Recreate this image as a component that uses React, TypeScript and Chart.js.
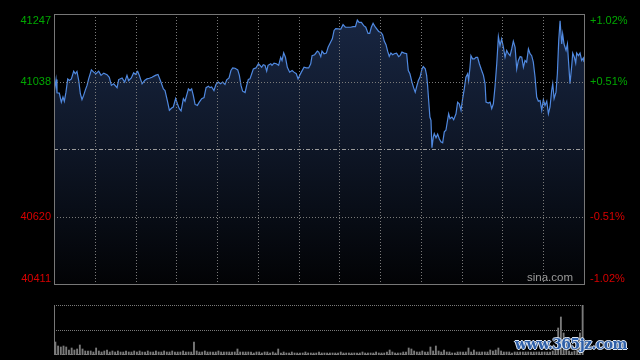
import { useEffect, useRef } from "react";
import { Chart, registerables } from "chart.js";

Chart.register(...registerables);

// ---- data ----
const PREV_CLOSE = 40829;
const PRICE_TICKS = [40411, 40620, 41038, 41247];
const PCT_LABELS = ["-1.02%", "-0.51%", "+0.51%", "+1.02%"];
const GRID_MINUTES = [30, 60, 90, 120, 150, 180, 210, 240, 270, 300, 330, 360];

// minutes since open
const MINUTES = [
  0, 1.5, 2.2, 3.9, 5.4, 6.6, 7.6, 8.8, 10.1, 11.3, 12.8, 14.5, 15.7, 16.9, 18.2, 19.4, 20.6, 21.8, 23.1, 24.3,
  25.5, 27.5, 29.2, 30.9, 32.9, 34.6, 36.6, 39.0, 40.7, 42.2, 43.9, 46.4, 47.6, 50.1, 52.0, 53.7, 54.9, 56.9, 58.6, 59.9,
  61.6, 62.8, 64.8, 66.7, 68.4, 70.2, 72.1, 74.6, 76.5,
  78.0, 80.5, 81.7, 83.4, 84.9, 86.6, 87.8, 89.5, 90.8, 92.2, 93.5, 95.2, 96.4, 97.6, 98.9, 100.1, 101.3, 102.5, 103.8,
  105.5, 106.9, 108.7, 110.4, 111.9, 113.6, 114.8, 116.0, 117.7, 119.2, 120.9, 122.6, 124.1, 125.8, 127.1, 128.8, 130.2,
  131.5, 133.2, 135.2, 136.4, 137.6, 138.8, 140.6, 141.8, 143.0, 144.2, 145.5, 146.7, 148.6, 150.4, 151.6, 152.8, 154.0,
  155.3, 156.5,
  157.5, 159.5, 160.4, 161.9, 163.6, 165.3, 166.8, 167.8, 169.0, 170.3, 171.7, 173.4, 175.2, 176.6, 178.3, 179.6, 180.8,
  182.0, 184.0, 185.7, 187.4, 188.9, 189.9, 191.8, 193.8, 194.8, 196.3, 197.2, 198.7, 200.4, 201.7, 203.6, 204.8, 206.1,
  207.3, 209.0, 211.0, 212.7, 214.4, 216.4, 218.3, 220.1, 221.8, 223.2, 224.5, 226.2, 227.9, 229.4, 231.1, 232.3, 233.5,
  234.8, 236.5,
  238.9, 240.6, 241.8, 243.0, 244.3, 245.5, 246.7, 247.9, 249.2, 250.4, 252.1, 253.6, 254.6, 256.0, 257.8, 259.5, 260.7,
  261.9, 263.4, 264.6, 265.8, 266.8, 268.1, 269.3, 270.8, 271.7, 273.2, 274.2, 274.9, 275.7, 276.6, 277.4, 278.1, 279.1,
  279.8, 281.1, 282.3, 283.5, 284.7, 286.0, 287.2, 288.4, 289.6, 290.4, 291.4, 292.8, 294.1, 295.8, 297.0, 298.2, 299.5,
  300.7, 301.9, 303.1, 304.4, 305.1, 306.1, 306.8, 308.0, 309.3, 310.5, 311.7, 313.0,
  314.7, 316.0, 317.2, 317.9, 319.6, 320.9, 322.1, 323.3, 324.5, 325.8, 327.0, 328.2, 329.4, 330.7, 331.9, 333.1, 334.4,
  335.6, 336.8, 338.0, 339.3, 340.5, 341.7, 343.0, 344.2, 345.4, 346.6, 347.8, 349.1, 350.3, 351.5, 352.7, 354.0, 355.2,
  356.4, 357.7, 358.9, 360.1, 361.3, 362.6, 363.8, 365.0, 366.2, 367.0, 368.0, 369.4, 370.4, 371.4, 372.4, 373.6, 374.3,
  375.3, 376.8, 377.8, 378.5, 379.7, 381.0, 381.7, 382.9, 383.9, 384.6, 385.9, 387.1, 388.3, 389.5, 390,
];

const PRICES = [
  41000, 41044, 41003, 41002, 40974, 40990, 40977, 41005, 41046, 41041, 41046, 41070, 41062, 41069, 41041, 41000, 40982, 40995, 41012, 41026,
  41046, 41074, 41067, 41062, 41070, 41057, 41064, 41059, 41051, 41026, 41031, 41019, 41044, 41049, 41036, 41057, 41041, 41049, 41065, 41060,
  41069, 41057, 41031, 41041, 41046, 41048, 41051, 41057, 41060,
  41044, 41015, 41010, 40979, 40949, 40956, 40959, 40985, 40969, 40954, 40947, 40985, 40977, 40995, 41015, 41010, 41015, 40995, 40967,
  40964, 40974, 40985, 40988, 41019, 41023, 41019, 41021, 41010, 41029, 41036, 41031, 41036, 41029, 41043, 41049, 41072,
  41080, 41079, 41074, 41057, 41026, 41008, 41004, 41026, 41044, 41046, 41062, 41077, 41080, 41093, 41088, 41082, 41090,
  41088, 41070,
  41088, 41093, 41088, 41095, 41093, 41088, 41113, 41103, 41127, 41113, 41082, 41067, 41072, 41067, 41062, 41046, 41057,
  41067, 41082, 41080, 41080, 41093, 41118, 41121, 41132, 41129, 41115, 41132, 41124, 41126, 41144, 41160, 41170, 41196,
  41202, 41201, 41200, 41214, 41206, 41206, 41206, 41208, 41208, 41228, 41221, 41221, 41211, 41206, 41187, 41187, 41206,
  41218, 41206,
  41193, 41190, 41183, 41163, 41152, 41132, 41116, 41126, 41121, 41124, 41126, 41115, 41118, 41129, 41126, 41124, 41072,
  41062, 41036, 41019, 41005, 41021, 41041, 41051, 41077, 41084, 41077, 41057, 41026, 40979, 40928, 40918, 40833, 40866,
  40877, 40864, 40875, 40861, 40851, 40848, 40882, 40887, 40918, 40938, 40923, 40928, 40920, 40938, 40974, 40969, 40949,
  40985, 41015, 41051, 41062, 41041, 41082, 41118, 41108, 41108, 41113, 41113, 41093,
  41072, 41057, 41031, 40974, 40971, 40974, 40954, 40969, 41021, 41093, 41177, 41149, 41170, 41144, 41113, 41134, 41124,
  41118, 41139, 41163, 41144, 41077, 41103, 41115, 41113, 41082, 41103, 41098, 41139, 41124, 41118, 41098, 41051, 40990,
  40977, 40979, 40949, 40982, 40964, 40977, 40938, 40959, 41010, 41031, 40985, 41005, 41062, 41165, 41226, 41154, 41185,
  41154, 41134, 41154, 41108, 41031, 41088, 41126, 41113, 41095, 41126, 41118, 41126, 41103, 41111, 41098,
];

// volume, one bar per two minutes (relative units, 100 = panel top)
const VOLUMES = [
  26, 18, 16, 18, 16, 10, 14, 10, 12, 20,
  12, 8, 8, 8, 6, 14, 8, 6, 8, 10,
  6, 8, 6, 8, 6, 6, 8, 6, 6, 8,
  6, 8, 6, 6, 8, 6, 6, 8, 6, 6,
  8, 6, 6, 8, 6, 6, 6, 8, 6, 6,
  6, 26, 8, 6, 6, 8, 6, 6, 6, 6,
  8, 6, 6, 6, 6, 6, 6, 12, 6, 6,
  6, 6, 6, 4, 6, 6, 4, 6, 6, 4,
  6, 4, 12, 4, 6, 4, 4, 6, 4, 4,
  4, 4, 6, 4, 4, 4, 4, 6, 4, 4,
  4, 4, 4, 4, 4, 6, 4, 4, 4, 4,
  4, 4, 4, 6, 4, 4, 4, 4, 6, 4,
  4, 4, 6, 10, 6, 4, 4, 4, 6, 6,
  14, 12, 8, 6, 6, 8, 6, 6, 16, 8,
  18, 8, 6, 10, 6, 6, 4, 4, 6, 6,
  6, 6, 14, 6, 10, 6, 6, 6, 6, 6,
  10, 8, 10, 14, 8, 6, 6, 6, 4, 6,
  6, 6, 6, 6, 6, 6, 6, 6, 6, 6,
  6, 6, 6, 8, 10, 54, 76, 44, 16, 8,
  6, 8, 10, 44, 100,
];

const FONT = '11px "Liberation Sans", Arial, sans-serif';
const GREEN = "#00a800";
const RED = "#d80000";

const mainDecor = {
  id: "mainDecor",
  afterDatasetsDraw(chart: any) {
    const { ctx, chartArea: a, scales } = chart;
    const x = scales.x;
    const y = scales.y;
    ctx.save();
    ctx.lineWidth = 1;
    // dotted grid
    ctx.strokeStyle = "#7a7a7a";
    ctx.setLineDash([1, 2]);
    for (const m of GRID_MINUTES) {
      const px = Math.round(x.getPixelForValue(m)) + 0.5;
      ctx.beginPath();
      ctx.moveTo(px, a.top);
      ctx.lineTo(px, a.bottom);
      ctx.stroke();
    }
    for (const v of [PRICE_TICKS[1], PRICE_TICKS[2]]) {
      const py = Math.round(y.getPixelForValue(v)) + 0.5;
      ctx.beginPath();
      ctx.moveTo(a.left, py);
      ctx.lineTo(a.right, py);
      ctx.stroke();
    }
    // previous close line
    ctx.strokeStyle = "#9a9a9a";
    ctx.setLineDash([4, 2, 1, 2]);
    const pc = Math.round(y.getPixelForValue(PREV_CLOSE)) + 0.5;
    ctx.beginPath();
    ctx.moveTo(a.left, pc);
    ctx.lineTo(a.right, pc);
    ctx.stroke();
    // border
    ctx.setLineDash([]);
    ctx.strokeStyle = "#777777";
    ctx.strokeRect(a.left + 0.5, a.top + 0.5, a.right - a.left, a.bottom - a.top);

    // labels
    ctx.font = FONT;
    PRICE_TICKS.forEach((v, i) => {
      let py = y.getPixelForValue(v);
      let base: CanvasTextBaseline = "middle";
      if (i === PRICE_TICKS.length - 1) {
        base = "top";
        py = a.top + 1;
      } else if (i === 0) {
        base = "bottom";
        py = a.bottom;
      }
      ctx.textBaseline = base;
      ctx.fillStyle = v > PREV_CLOSE ? GREEN : RED;
      ctx.textAlign = "right";
      ctx.fillText(String(v), a.left - 3, py);
      ctx.textAlign = "left";
      ctx.fillText(PCT_LABELS[i], a.right + 6, py);
    });
    // watermark
    ctx.font = '11.5px "Liberation Sans", Arial, sans-serif';
    ctx.fillStyle = "#9a9a9a";
    ctx.textAlign = "right";
    ctx.textBaseline = "bottom";
    ctx.fillText("sina.com", a.right - 11, a.bottom - 0.5);
    ctx.restore();
  },
};

const volDecor = {
  id: "volDecor",
  beforeDatasetsDraw(chart: any) {
    const { ctx, chartArea: a, scales } = chart;
    const y = scales.y;
    ctx.save();
    ctx.lineWidth = 1;
    ctx.strokeStyle = "#7a7a7a";
    ctx.setLineDash([1, 1]);
    for (const v of [100, 50, 0]) {
      const py = Math.round(y.getPixelForValue(v)) + (v === 0 ? -0.5 : 0.5);
      ctx.beginPath();
      ctx.moveTo(a.left, py);
      ctx.lineTo(a.right, py);
      ctx.stroke();
    }
    ctx.setLineDash([]);
    ctx.strokeStyle = "#777777";
    ctx.beginPath();
    ctx.moveTo(a.left + 0.5, a.top);
    ctx.lineTo(a.left + 0.5, a.bottom);
    ctx.stroke();
    ctx.restore();
  },
};

export default function App() {
  const mainRef = useRef<HTMLCanvasElement>(null);
  const volRef = useRef<HTMLCanvasElement>(null);

  useEffect(() => {
    const points = MINUTES.map((m, i) => ({ x: m, y: PRICES[i] }));
    const main = new Chart(mainRef.current!, {
      type: "line",
      data: {
        datasets: [
          {
            data: points,
            borderColor: "#5089e0",
            borderWidth: 1.2,
            pointRadius: 0,
            tension: 0,
            fill: "start",
            backgroundColor: (c: any) => {
              const area = c.chart.chartArea;
              if (!area) return "rgba(20,32,56,1)";
              const g = c.chart.ctx.createLinearGradient(0, area.top, 0, area.bottom);
              g.addColorStop(0, "rgb(24,38,66)");
              g.addColorStop(0.5, "rgb(14,22,38)");
              g.addColorStop(1, "rgb(2,3,5)");
              return g;
            },
          },
        ],
      },
      options: {
        responsive: false,
        animation: false,
        events: [],
        layout: { padding: { left: 54, right: 56, top: 14, bottom: 16 } },
        plugins: { legend: { display: false }, tooltip: { enabled: false } },
        scales: {
          x: { type: "linear", min: 0, max: 390, display: false },
          y: { type: "linear", min: PRICE_TICKS[0], max: PRICE_TICKS[3], display: false },
        },
      },
      plugins: [mainDecor],
    });

    const volData = VOLUMES.map((v, i) => ({ x: i * 2 + 1, y: v }));
    const vol = new Chart(volRef.current!, {
      type: "bar",
      data: {
        datasets: [
          {
            data: volData,
            backgroundColor: "#7a7a7a",
            borderWidth: 0,
            barThickness: 1.2,
          },
        ],
      },
      options: {
        responsive: false,
        animation: false,
        events: [],
        layout: { padding: { left: 54, right: 56, top: 5, bottom: 5 } },
        plugins: { legend: { display: false }, tooltip: { enabled: false } },
        scales: {
          x: { type: "linear", min: 0, max: 390, display: false, offset: false },
          y: { type: "linear", min: 0, max: 100, display: false },
        },
      },
      plugins: [volDecor],
    });

    return () => {
      main.destroy();
      vol.destroy();
    };
  }, []);

  return (
    <div
      style={{
        position: "fixed",
        left: 0,
        top: 0,
        width: 640,
        height: 360,
        background: "#000",
        overflow: "hidden",
      }}
    >
      <canvas
        ref={mainRef}
        width={640}
        height={300}
        style={{ position: "absolute", left: 0, top: 0, width: 640, height: 300 }}
      />
      <canvas
        ref={volRef}
        width={640}
        height={60}
        style={{ position: "absolute", left: 0, top: 300, width: 640, height: 60 }}
      />
      <div
        style={{
          position: "absolute",
          left: 515,
          top: 336,
          font: 'bold 14px "DejaVu Serif", serif',
          color: "#2e5fa8",
          letterSpacing: -0.6,
          textShadow: "1px 0 0 #dde6f2, -1px 0 0 #dde6f2, 0 1px 0 #dde6f2, 0 -1px 0 #dde6f2",
          whiteSpace: "nowrap",
        }}
      >
        www.365jz.com
      </div>
    </div>
  );
}
